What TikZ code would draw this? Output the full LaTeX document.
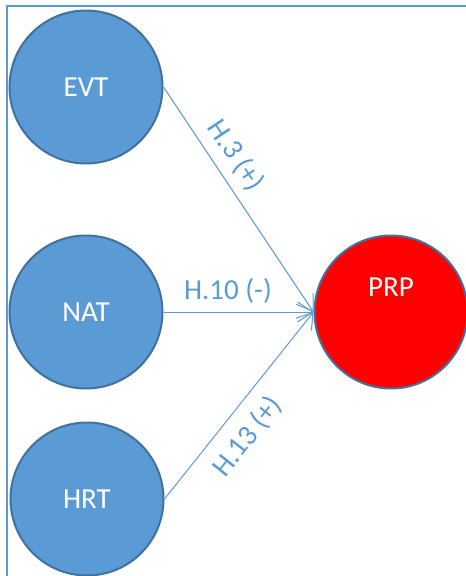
\documentclass[tikz,border=0pt]{standalone}
\usepackage{fontspec}
\setmainfont{Carlito}
\usetikzlibrary{arrows.meta}
\definecolor{offblue}{HTML}{5B9BD5}
\definecolor{offedge}{HTML}{41719C}
\begin{document}
\begin{tikzpicture}[x=1pt,y=-1pt,
  bubble/.style={circle, draw=offedge, line width=2pt, fill=offblue, minimum size=153pt, inner sep=0pt,
    text=white, font=\fontsize{29}{33}\selectfont},
  link/.style={draw=offblue, line width=1pt, -{Straight Barb[length=15pt,width=20pt]}},
  hyp/.style={text=offblue, font=\fontsize{29}{33}\selectfont, sloped, inner sep=2pt}]
\useasboundingbox (0,0) rectangle (466,576);
\clip (0,0) rectangle (466,576);
\draw[offblue, line width=2pt] (470,6) -- (6.5,6) -- (6.5,580);
\node[bubble] (EVT) at (86,87) {EVT};
\node[bubble] (NAT) at (86,312) {NAT};
\node[bubble] (HRT) at (87,499) {HRT};
\node[bubble, fill=red, text=red] (PRP) at (391,312) {};
\node[text=white, font=\fontsize{29}{33}\selectfont] (PRPt) at (391,287) {PRP};
\draw[link] (EVT.east) -- node[hyp, above=7pt, pos=0.36] (h3) {H.3 (+)} (PRP.west);
\draw[link] (NAT.east) -- node[hyp, above=6pt, pos=0.43] (h10) {H.10 (-)} (PRP.west);
\draw[link] (HRT.east) -- node[hyp, below=11pt, pos=0.42] (h13) {H.13 (+)} (PRP.west);
\end{tikzpicture}
\end{document}
